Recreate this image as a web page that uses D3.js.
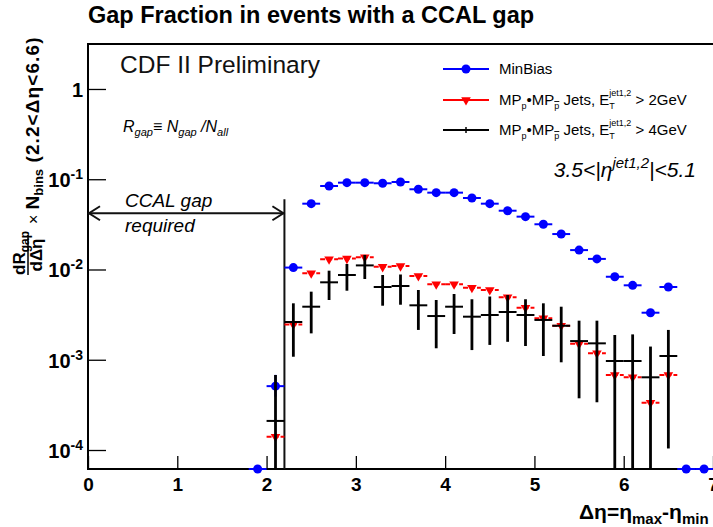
<!DOCTYPE html>
<html>
<head>
<meta charset="utf-8">
<script src="https://cdn.jsdelivr.net/npm/d3@7"></script>
<style>
body { margin: 0; background: #fff; }
svg { display: block; font-family: "Liberation Sans", Arial, Helvetica, sans-serif; }
</style>
</head>
<body>
<svg id="chart" width="713" height="527"></svg>
<script>
// bin centres (delta eta), bin width 0.2
const binCenters = [1.9, 2.1, 2.3, 2.5, 2.7, 2.9, 3.1, 3.3, 3.5, 3.7, 3.9, 4.1, 4.3,
                    4.5, 4.7, 4.9, 5.1, 5.3, 5.5, 5.7, 5.9, 6.1, 6.3, 6.5, 6.7, 6.9];
const binHalf = 0.1;

// MinBias (0 = empty bin, drawn on the axis)
const minBias = [0, 5.1e-4, 0.0105, 0.0536, 0.0841, 0.0916, 0.0916, 0.0902, 0.0932, 0.0774,
                 0.0710, 0.0710, 0.0620, 0.0536, 0.0448, 0.0385, 0.0317, 0.0247, 0.0164,
                 0.0131, 0.00831, 0.00668, 0.00332, 0.0064, 0, 0];
const minBiasHi = [null, 6.8e-4, null, null, null, null, null, null, null, null, null, null, null,
                   null, null, null, null, null, null, null, null, null, null, null, null, null];
const minBiasLo = [null, 3.9e-4, null, null, null, null, null, null, null, null, null, null, null,
                   null, null, null, null, null, null, null, null, null, null, null, null, null];

// MPp*MPpbar jets, Et > 2 GeV
const jets2 = [null, 1.40e-4, 0.00246, 0.00908, 0.0130, 0.0132, 0.0137, 0.0107, 0.0109, 0.00848,
               0.00686, 0.00686, 0.00628, 0.00593, 0.00492, 0.00377, 0.00288, 0.00238, 0.00150,
               0.00118, 6.77e-4, 6.39e-4, 3.34e-4, 6.77e-4, null, null];

// MPp*MPpbar jets, Et > 4 GeV, with error bars (lo 0 = down to axis)
const jets4 = [null, 2.10e-4, 0.00262, 0.00387, 0.00721, 0.00869, 0.0111, 0.00640, 0.00656, 0.00401,
               0.00305, 0.00387, 0.00300, 0.00313, 0.00338, 0.00313, 0.00276, 0.00238, 0.00161,
               0.00152, 9.68e-4, 9.68e-4, 6.39e-4, 0.00110, null, null];
const jets4Hi = [null, 6.78e-4, 0.00422, 0.00568, 0.00970, 0.0115, 0.0145, 0.00869, 0.0088, 0.00593,
                 0.00459, 0.00535, 0.00468, 0.00502, 0.00521, 0.00468, 0.00422, 0.00387, 0.00271,
                 0.00271, 0.00188, 0.00191, 0.00140, 0.00214, null, null];
const jets4Lo = [null, 0, 0.00108, 0.00196, 0.00459, 0.00582, 0.00785, 0.00397, 0.00407, 0.00214,
                 0.00134, 0.00193, 0.00128, 0.00146, 0.00158, 0.00142, 0.00110, 9.37e-4, 3.74e-4,
                 3.38e-4, 0, 0, 0, 1.04e-4, null, null];

const xMajorTicks = [0, 1, 2, 3, 4, 5, 6, 7];
const yMajorTicks = [1e-4, 1e-3, 1e-2, 1e-1, 1];
const yTickLabels = ["10", "10", "10", "10", "1"];
const yTickExp = ["-4", "-3", "-2", "-1", ""];

// CCAL gap annotation
const gapCut = 2.2;
const gapArrowY = 0.042;
const gapLineTop = 0.06;

const W = 713, H = 527;
const m = { top: 44, right: 0, bottom: 58, left: 88 };

const svg = d3.select("#chart");

const x = d3.scaleLinear().domain([0, 7]).range([m.left, W - m.right]);
const y = d3.scaleLog().domain([6.16e-5, 3.15]).range([H - m.bottom, m.top]);

function yv(v){
    if(v === null || v <= 0) return y.range()[0];
    return y(v);
}

// title
svg.append("text")
    .attr("x", 88).attr("y", 23)
    .attr("font-size", 23.5).attr("font-weight", "bold")
    .text("Gap Fraction in events with a CCAL gap");

// x axis ticks
const gx = svg.append("g").attr("transform", `translate(0,${H - m.bottom})`);
gx.call(d3.axisBottom(x).tickValues(d3.range(0, 7.01, 0.2)).tickSizeInner(-7).tickSizeOuter(0).tickFormat(""));
gx.call(d3.axisBottom(x).tickValues(xMajorTicks).tickSizeInner(-13).tickSizeOuter(0).tickPadding(9)
    .tickFormat(d3.format("d")));
gx.selectAll(".domain").remove();
gx.selectAll("line").attr("stroke", "#000").attr("stroke-width", 1.3);
gx.selectAll("text").attr("font-size", 19).attr("font-weight", "bold").attr("fill", "#000")
    .attr("font-family", "Liberation Sans, Arial, sans-serif");

// y axis ticks
let yMinor = [];
for(let e = -5; e <= 0; e++){
    for(let k = 2; k <= 9; k++){
        let v = k * Math.pow(10, e);
        if(v > y.domain()[0] && v < y.domain()[1]) yMinor.push(v);
    }
}
const gy = svg.append("g").attr("transform", `translate(${m.left},0)`);
gy.call(d3.axisLeft(y).tickValues(yMinor).tickSizeInner(-9).tickSizeOuter(0).tickFormat(""));
gy.call(d3.axisLeft(y).tickValues(yMajorTicks).tickSizeInner(-18).tickSizeOuter(0).tickFormat(""));
gy.selectAll(".domain").remove();
gy.selectAll("line").attr("stroke", "#000").attr("stroke-width", 1.3);

const ylab = svg.append("g").attr("font-weight", "bold");
yMajorTicks.forEach(function(v, i){
    let t = ylab.append("text")
        .attr("x", 83).attr("y", y(v) + 8)
        .attr("text-anchor", "end")
        .attr("font-size", 20)
        .text(yTickLabels[i]);
    if(yTickExp[i] !== ""){
        t.append("tspan").attr("dy", -8).attr("font-size", 14).text(yTickExp[i]);
    }
});

// frame (right edge is outside the picture)
svg.append("path")
    .attr("d", `M${W + 4},${m.top}H${m.left}V${H - m.bottom}H${W + 4}`)
    .attr("fill", "none").attr("stroke", "#000").attr("stroke-width", 2);

// y axis title, rotated
const yt = svg.append("g")
    .attr("transform", "translate(39,275) rotate(-90)")
    .attr("font-weight", "bold");
let num = yt.append("text").attr("x", 0).attr("y", -14).attr("font-size", 17);
num.append("tspan").text("dR");
num.append("tspan").attr("dy", 4).attr("font-size", 12).text("gap");
yt.append("line").attr("x1", 0).attr("x2", 40).attr("y1", -11).attr("y2", -11)
    .attr("stroke", "#000").attr("stroke-width", 1.5);
yt.append("text").attr("x", 20).attr("y", 3).attr("text-anchor", "middle")
    .attr("font-size", 17).text("d\u0394\u03b7");
let rest = yt.append("text").attr("x", 51).attr("y", 0).attr("font-size", 19);
rest.append("tspan").attr("font-weight", "normal").attr("font-size", 16).text("\u00d7");
rest.append("tspan").text(" N");
rest.append("tspan").attr("dy", 4).attr("font-size", 13).text("bins");
rest.append("tspan").attr("dy", -4).attr("letter-spacing", 1.1).text(" (2.2<\u0394\u03b7<6.6)");

// x axis title
let xt = svg.append("text").attr("x", 579).attr("y", 519)
    .attr("font-size", 21).attr("font-weight", "bold");
xt.append("tspan").text("\u0394\u03b7=\u03b7");
xt.append("tspan").attr("dy", 5).attr("font-size", 15).text("max");
xt.append("tspan").attr("dy", -5).text("-\u03b7");
xt.append("tspan").attr("dy", 5).attr("font-size", 15).text("min");

// texts inside the frame
svg.append("text").attr("x", 120).attr("y", 73).attr("font-size", 24.5).attr("fill", "#111")
    .text("CDF II Preliminary");

let rg = svg.append("text").attr("x", 123).attr("y", 132).attr("font-size", 16)
    .attr("font-style", "italic");
rg.append("tspan").text("R");
rg.append("tspan").attr("dy", 4).attr("font-size", 11).text("gap");
rg.append("tspan").attr("dy", -4).text("\u2261 N");
rg.append("tspan").attr("dy", 4).attr("font-size", 11).text("gap");
rg.append("tspan").attr("dy", -4).text(" /N");
rg.append("tspan").attr("dy", 4).attr("font-size", 11).text("all");

let eta = svg.append("text").attr("x", 696).attr("y", 177).attr("text-anchor", "end")
    .attr("font-size", 21).attr("font-style", "italic");
eta.append("tspan").text("3.5<|\u03b7");
eta.append("tspan").attr("dy", -9).attr("font-size", 15).text("jet1,2");
eta.append("tspan").attr("dy", 9).text("|<5.1");

svg.append("text").attr("x", 125).attr("y", 207).attr("font-size", 19).attr("font-style", "italic")
    .text("CCAL gap");
svg.append("text").attr("x", 125).attr("y", 232).attr("font-size", 19).attr("font-style", "italic")
    .text("required");

// gap arrow and cut line
const ay = y(gapArrowY), ax0 = x(0), ax1 = x(gapCut);
const ann = svg.append("g").attr("stroke", "#111").attr("stroke-width", 2).attr("fill", "none");
ann.append("line").attr("x1", ax0).attr("x2", ax1).attr("y1", ay).attr("y2", ay);
ann.append("path").attr("d", `M${ax0 + 12},${ay - 7}L${ax0 + 1},${ay}L${ax0 + 12},${ay + 7}`);
ann.append("path").attr("d", `M${ax1 - 12},${ay - 7}L${ax1 - 1},${ay}L${ax1 - 12},${ay + 7}`);
ann.append("line").attr("x1", ax1).attr("x2", ax1).attr("y1", y(gapLineTop)).attr("y2", y.range()[0]);

// data
const plot = svg.append("g");

// MinBias
binCenters.forEach(function(c, i){
    let v = minBias[i];
    if(v === null) return;
    let py = yv(v);
    plot.append("line").attr("x1", x(c - binHalf)).attr("x2", x(c + binHalf))
        .attr("y1", py).attr("y2", py).attr("stroke", "#0000ff").attr("stroke-width", 2);
    if(minBiasHi[i] !== null){
        plot.append("line").attr("x1", x(c)).attr("x2", x(c))
            .attr("y1", yv(minBiasHi[i])).attr("y2", yv(minBiasLo[i]))
            .attr("stroke", "#0000ff").attr("stroke-width", 2);
    }
    plot.append("circle").attr("cx", x(c)).attr("cy", py).attr("r", 4.5).attr("fill", "#0000ff");
});

// jets > 2 GeV
const tri = d3.symbol().type(d3.symbolTriangle).size(40);
binCenters.forEach(function(c, i){
    let v = jets2[i];
    if(v === null) return;
    let py = yv(v);
    plot.append("line").attr("x1", x(c - binHalf)).attr("x2", x(c + binHalf))
        .attr("y1", py).attr("y2", py).attr("stroke", "#ff0000").attr("stroke-width", 2)
        .attr("stroke-dasharray", "5,2");
    plot.append("path").attr("d", tri)
        .attr("transform", `translate(${x(c)},${py}) rotate(180)`)
        .attr("fill", "#ff0000");
});

// jets > 4 GeV
binCenters.forEach(function(c, i){
    let v = jets4[i];
    if(v === null) return;
    let py = yv(v);
    plot.append("line").attr("x1", x(c)).attr("x2", x(c))
        .attr("y1", yv(jets4Hi[i])).attr("y2", yv(jets4Lo[i]))
        .attr("stroke", "#000").attr("stroke-width", 2.8);
    plot.append("line").attr("x1", x(c - binHalf)).attr("x2", x(c + binHalf))
        .attr("y1", py).attr("y2", py).attr("stroke", "#000").attr("stroke-width", 2);
});

// legend
const legendNames = ["MinBias", "jets2", "jets4"];
const legendY = [69, 100, 130];
const lg = svg.append("g");
legendNames.forEach(function(name, i){
    let ly = legendY[i];
    let col = name === "MinBias" ? "#0000ff" : (name === "jets2" ? "#ff0000" : "#000");
    lg.append("line").attr("x1", 443).attr("x2", 489).attr("y1", ly).attr("y2", ly)
        .attr("stroke", col).attr("stroke-width", 2);
    if(name === "MinBias"){
        lg.append("circle").attr("cx", 466).attr("cy", ly).attr("r", 4.5).attr("fill", col);
    } else if(name === "jets2"){
        lg.append("path").attr("d", tri).attr("transform", `translate(466,${ly}) rotate(180)`).attr("fill", col);
    } else {
        lg.append("line").attr("x1", 466).attr("x2", 466).attr("y1", ly - 3).attr("y2", ly + 3)
            .attr("stroke", col).attr("stroke-width", 1.5);
    }
    let t = lg.append("text").attr("x", 499).attr("y", ly + 5).attr("font-size", 15);
    if(name === "MinBias"){
        t.text("MinBias");
    } else {
        t.append("tspan").text("MP");
        t.append("tspan").attr("dy", 4).attr("font-size", 9).text("p");
        t.append("tspan").attr("dy", -4).text("\u2022MP");
        t.append("tspan").attr("dy", 4).attr("font-size", 9).style("text-decoration", "overline").text("p");
        t.append("tspan").attr("dy", -4).text(" Jets, E");
        t.append("tspan").attr("dy", 4).attr("font-size", 9).text("T");
        t.append("tspan").attr("dx", -5.5).attr("dy", -13).attr("font-size", 9).text("jet1,2");
        t.append("tspan").attr("dy", 9).text(name === "jets2" ? " > 2GeV" : " > 4GeV");
    }
});
</script>
</body>
</html>
